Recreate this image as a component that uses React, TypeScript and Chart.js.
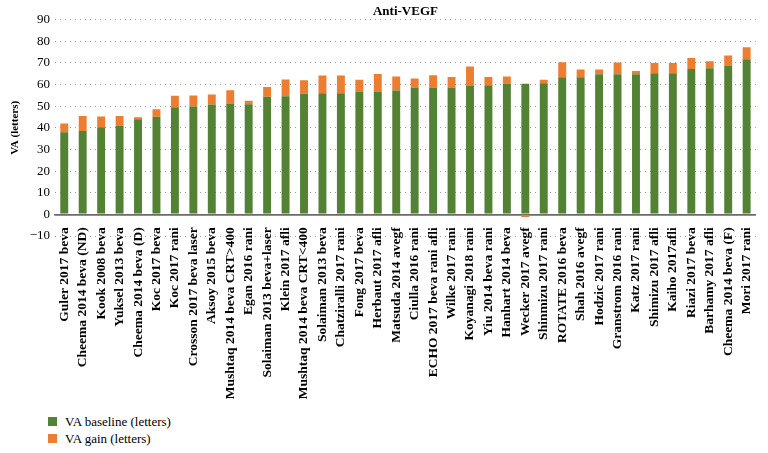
import React, { useEffect, useRef } from "react";
import { Chart, registerables } from "chart.js";

Chart.register(...registerables);

const categories = [
  "Guler 2017 beva",
  "Cheema 2014 beva (ND)",
  "Kook 2008 beva",
  "Yuksel 2013 beva",
  "Cheema 2014 beva (D)",
  "Koc 2017 beva",
  "Koc 2017 rani",
  "Crosson 2017 beva laser",
  "Aksoy 2015 beva",
  "Mushtaq 2014 beva CRT>400",
  "Egan 2016 rani",
  "Solaiman 2013 beva+laser",
  "Klein 2017 afli",
  "Mushtaq 2014 beva CRT<400",
  "Solaiman 2013 beva",
  "Chatziralli 2017 rani",
  "Fong 2017 beva",
  "Herbaut 2017 afli",
  "Matsuda 2014 avegf",
  "Ciulla 2016 rani",
  "ECHO 2017 beva rani afli",
  "Wilke 2017 rani",
  "Koyanagi 2018 rani",
  "Yiu 2014 beva rani",
  "Hanhart 2014 beva",
  "Wecker 2017 avegf",
  "Shinmizu 2017 rani",
  "ROTATE 2016 beva",
  "Shah 2016 avegf",
  "Hodzic 2017 rani",
  "Granstrom 2016 rani",
  "Katz 2017 rani",
  "Shimizu 2017 afli",
  "Kaiho 2017afli",
  "Riazi 2017 beva",
  "Barhamy 2017 afli",
  "Cheema 2014 beva (F)",
  "Mori 2017 rani",
];

const vaBaseline = [
  38.0, 38.5, 40.2, 40.9, 44.0, 45.1, 49.5, 49.8, 50.8, 51.2,
  50.9, 54.3, 54.6, 55.7, 56.0, 56.0, 56.8, 56.8, 57.2, 58.6,
  58.6, 58.6, 59.5, 59.7, 60.3, 60.3, 60.6, 63.4, 63.4, 64.8,
  64.8, 64.8, 65.2, 65.2, 67.2, 67.5, 68.8, 71.7,
];

const vaGain = [
  4.0, 6.9, 5.0, 4.5, 0.9, 3.5, 5.3, 5.1, 4.6, 6.2,
  1.6, 4.6, 7.7, 6.3, 8.2, 8.2, 5.4, 8.1, 6.5, 4.2,
  5.7, 4.9, 8.8, 3.8, 3.4, -1.2, 1.6, 6.9, 3.5, 2.1,
  5.4, 1.5, 4.8, 4.8, 5.1, 3.3, 4.6, 5.5,
];

const seriesNames = ["VA baseline (letters)", "VA gain (letters)"];
const seriesColors = ["#548235", "#ED7D31"];
const chartTitle = "Anti-VEGF";
const yAxisTitle = "VA (letters)";

const SERIF = "'Liberation Serif', 'Times New Roman', serif";

export default function App() {
  const canvasRef = useRef<HTMLCanvasElement | null>(null);

  useEffect(() => {
    if (!canvasRef.current) return;
    const chart = new Chart(canvasRef.current, {
      type: "bar",
      data: {
        labels: categories,
        datasets: [
          {
            label: seriesNames[0],
            data: vaBaseline,
            backgroundColor: seriesColors[0],
            barPercentage: 0.43,
            categoryPercentage: 1,
          },
          {
            label: seriesNames[1],
            data: vaGain,
            backgroundColor: seriesColors[1],
            barPercentage: 0.43,
            categoryPercentage: 1,
          },
        ],
      },
      options: {
        responsive: true,
        maintainAspectRatio: false,
        animation: false,
        layout: { padding: { left: 1, right: 10, top: 0, bottom: 168 } },
        plugins: {
          legend: { display: false },
          tooltip: { enabled: false },
          title: {
            display: true,
            fullSize: false,
            text: chartTitle,
            color: "#000",
            font: { family: SERIF, size: 13, weight: "bold" },
            padding: { top: 4, bottom: 0 },
          },
        },
        scales: {
          x: {
            stacked: true,
            position: { y: 0 } as any,
            grid: { display: false },
            border: { display: true, color: "#6b6b6b", width: 1.5 },
            ticks: {
              color: "#000",
              autoSkip: false,
              minRotation: 90,
              maxRotation: 90,
              padding: 5,
              font: { family: SERIF, size: 13.5, weight: "bold" },
            },
          },
          y: {
            stacked: true,
            min: -10,
            max: 90,
            ticks: {
              stepSize: 10,
              color: "#000",
              padding: 5,
              font: { family: SERIF, size: 13 },
              callback: (v: any) => (Number(v) < 0 ? "\u2212" + Math.abs(Number(v)) : String(v)),
            },
            grid: {
              drawTicks: false,
              color: (ctx: any) => (ctx.tick && ctx.tick.value === 0 ? "#6b6b6b" : "#9a9a9a"),
              lineWidth: (ctx: any) => (ctx.tick && ctx.tick.value === 0 ? 1.5 : 1),
            },
            border: {
              display: false,
              dash: (ctx: any) => (ctx.tick && ctx.tick.value === 0 ? [] : [1, 4]),
            },
            title: {
              display: true,
              text: yAxisTitle,
              color: "#000",
              font: { family: SERIF, size: 11, weight: "bold" },
              padding: { top: 8, bottom: 2.5 },
            },
          },
        },
      },
    });
    return () => chart.destroy();
  }, []);

  return (
    <div style={{ position: "absolute", left: 0, top: 0, width: 768, height: 453, background: "#fff" }}>
      <div style={{ position: "absolute", left: 0, top: 0, width: 768, height: 404 }}>
        <canvas ref={canvasRef} />
      </div>
      <div
        style={{
          position: "absolute",
          left: 48,
          top: 413,
          fontFamily: SERIF,
          fontSize: 13,
          color: "#000",
          lineHeight: "17px",
        }}
      >
        {seriesNames.map((name, i) => (
          <div key={name} style={{ display: "flex", alignItems: "center" }}>
            <span
              style={{
                display: "inline-block",
                width: 9,
                height: 9,
                background: seriesColors[i],
                marginRight: 8,
              }}
            />
            <span>{name}</span>
          </div>
        ))}
      </div>
    </div>
  );
}
